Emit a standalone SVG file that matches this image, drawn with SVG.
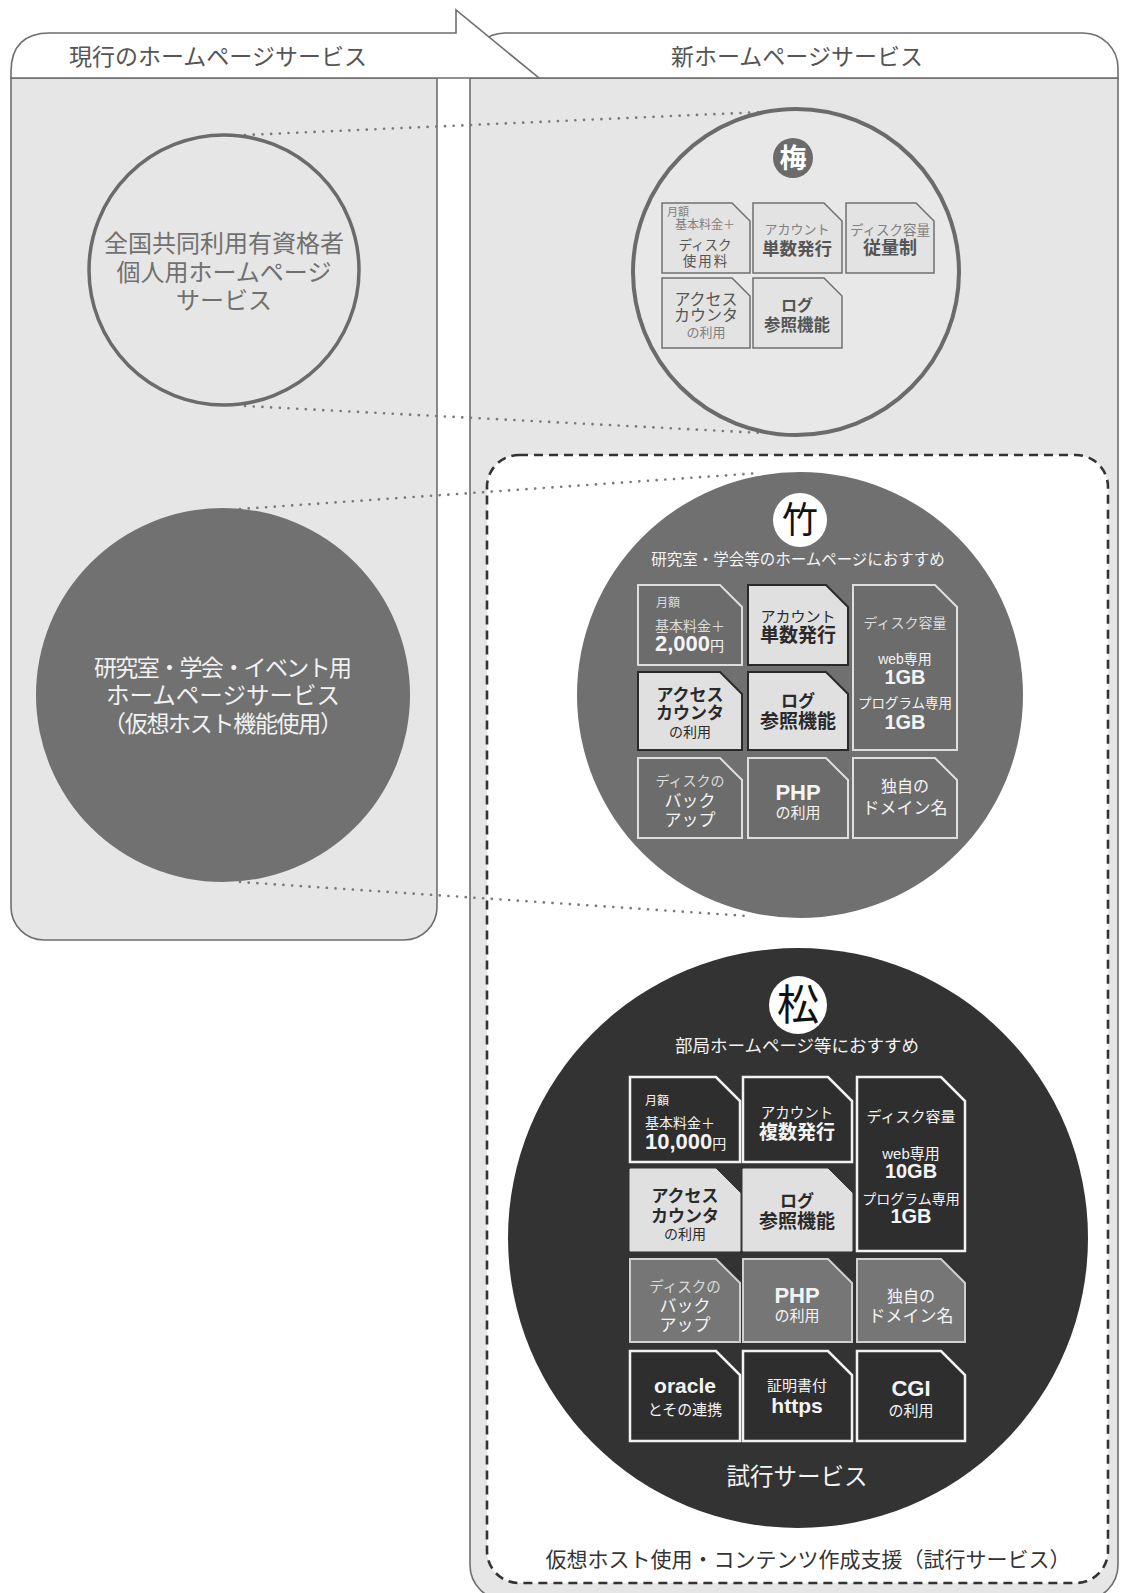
<svg xmlns="http://www.w3.org/2000/svg" width="1121" height="1593" viewBox="0 0 1121 1593">
<defs>
<style>
text{font-family:"Liberation Sans","Noto Sans CJK JP",sans-serif;}
.c{text-anchor:middle;}
.b{font-weight:bold;}
.frame{stroke:#6e6e6e;stroke-width:1.6;}
.dot{fill:none;stroke:#7a7a7a;stroke-width:2.6;stroke-linecap:round;stroke-dasharray:0.1 8.6;}
.bu{fill:#e3e3e3;stroke:#707070;stroke-width:1.5;}
.td{fill:#6c6c6c;stroke:#dedede;stroke-width:2;}
.tl{fill:#e0e0e0;stroke:#2a2a2a;stroke-width:2;}
.md{fill:#2e2e2e;stroke:#f2f2f2;stroke-width:2.5;}
.ml{fill:#e0e0e0;stroke:#e0e0e0;stroke-width:1;}
.mm{fill:#767676;stroke:#d0d0d0;stroke-width:2;}
.g8{fill:#808080;}
.g5{fill:#555;}
.k{fill:#2a2a2a;}
.w{fill:#f4f4f4;}
.wl{fill:#dcdcdc;}
</style>
</defs>
<rect width="1121" height="1593" fill="#fff"/>

<g id="panel-new">
<path class="frame" d="M470 78 V1565 A35 35 0 0 0 505 1600 H1083 A35 35 0 0 0 1118 1565 V78 Z" fill="#e6e6e6"/>
<path class="frame" d="M470 78 V68 A35 35 0 0 1 505 33 H1083 A35 35 0 0 1 1118 68 V78 Z" fill="#fff"/>
<text class="c" x="797" y="65" font-size="23" fill="#555">新ホームページサービス</text>
</g>

<g id="panel-current">
<path class="frame" d="M11 78 V907 A33 33 0 0 0 44 940 H404 A33 33 0 0 0 437 907 V78 Z" fill="#e6e6e6"/>
<path class="frame" d="M11 78 V72 Q11 33 50 33 H456 V10 L539 78 Z" fill="#fff"/>
<text class="c" x="218" y="65" font-size="23" fill="#555">現行のホームページサービス</text>
</g>

<g id="virtual-host-area">
<rect x="487" y="455" width="621" height="1128" rx="32" fill="#fff" stroke="#333" stroke-width="2.6" stroke-dasharray="9 6"/>
<text class="c" x="808" y="1567" font-size="21" fill="#333">仮想ホスト使用・コンテンツ作成支援（試行サービス）</text>
</g>

<g id="connectors">
<path class="dot" d="M245 135 L762 112"/>
<path class="dot" d="M245 406 L762 433"/>
<path class="dot" d="M240 509 L760 473"/>
<path class="dot" d="M240 882 L748 916"/>
</g>

<g id="current-personal">
<circle cx="224" cy="270" r="135" fill="none" stroke="#6b6b6b" stroke-width="3.5"/>
<text class="c" x="224" y="252" font-size="24" fill="#707070">全国共同利用有資格者</text>
<text class="c" x="224" y="281" font-size="24" fill="#707070">個人用ホームページ</text>
<text class="c" x="224" y="309" font-size="24" fill="#707070">サービス</text>
</g>

<g id="current-lab">
<circle cx="223" cy="695" r="187" fill="#717171"/>
<text class="c" x="223" y="676" font-size="23" fill="#f2f2f2" textLength="258" lengthAdjust="spacing">研究室・学会・イベント用</text>
<text class="c" x="223" y="704" font-size="23.5" fill="#f2f2f2">ホームページサービス</text>
<text class="c" x="223" y="732" font-size="23" fill="#f2f2f2" textLength="240" lengthAdjust="spacing">（仮想ホスト機能使用）</text>
</g>

<g id="ume">
<circle cx="796" cy="272" r="163" fill="#e8e8e8" stroke="#6b6b6b" stroke-width="4"/>
<circle cx="793" cy="158" r="20" fill="#6b6b6b"/>
<text class="c b" x="793" y="168" font-size="27" fill="#fff">梅</text>
<path class="bu" d="M662 203 H732 L750 221 V273 H662 Z"/>
<path class="bu" d="M753 203 H824 L842 221 V273 H753 Z"/>
<path class="bu" d="M846 203 H916 L934 221 V273 H846 Z"/>
<path class="bu" d="M662 278 H732 L750 296 V348 H662 Z"/>
<path class="bu" d="M753 278 H824 L842 296 V348 H753 Z"/>
<text class="g8" x="667" y="216" font-size="11">月額</text>
<text class="c g8" x="705" y="229" font-size="12">基本料金＋</text>
<text class="c g5" x="705" y="250" font-size="13.5">ディスク</text>
<text class="c g5" x="706" y="266" font-size="13.5" letter-spacing="2">使用料</text>
<text class="c g8" x="797" y="234" font-size="13">アカウント</text>
<text class="c b g5" x="797" y="255" font-size="17.5">単数発行</text>
<text class="c g8" x="890" y="235" font-size="13.5">ディスク容量</text>
<text class="c b g5" x="890" y="254" font-size="18">従量制</text>
<text class="c g5" x="706" y="305" font-size="16">アクセス</text>
<text class="c g5" x="706" y="321" font-size="16">カウンタ</text>
<text class="c g8" x="706" y="337" font-size="13">の利用</text>
<text class="c b g5" x="797" y="311" font-size="16">ログ</text>
<text class="c b g5" x="797" y="331" font-size="16.5">参照機能</text>
</g>

<g id="take">
<circle cx="800" cy="695" r="223" fill="#707070"/>
<circle cx="800" cy="520" r="27" fill="#fff"/>
<text class="c" x="800" y="533" font-size="36" fill="#111">竹</text>
<text class="c w" x="798" y="565" font-size="15.5">研究室・学会等のホームページにおすすめ</text>
<path class="td" d="M638 585 H720 L742 607 V665 H638 Z"/>
<path class="tl" d="M748 585 H826 L848 607 V665 H748 Z"/>
<path class="td" d="M853 585 H935 L957 607 V750 H853 Z"/>
<path class="tl" d="M638 672 H720 L742 694 V750 H638 Z"/>
<path class="tl" d="M748 672 H826 L848 694 V750 H748 Z"/>
<path class="td" d="M638 758 H720 L742 780 V838 H638 Z"/>
<path class="td" d="M748 758 H826 L848 780 V838 H748 Z"/>
<path class="td" d="M853 758 H935 L957 780 V838 H853 Z"/>
<text class="wl" x="656" y="607" font-size="12">月額</text>
<text class="wl" x="655" y="631" font-size="14">基本料金＋</text>
<text class="w" x="655" y="651"><tspan class="b" font-size="22">2,000</tspan><tspan font-size="14">円</tspan></text>
<text class="c k" x="798" y="622" font-size="15">アカウント</text>
<text class="c b k" x="798" y="642" font-size="19">単数発行</text>
<text class="c wl" x="905" y="628" font-size="14">ディスク容量</text>
<text class="c w" x="905" y="664" font-size="14">web専用</text>
<text class="c b w" x="905" y="684" font-size="20">1GB</text>
<text class="c w" x="905" y="708" font-size="13.5">プログラム専用</text>
<text class="c b w" x="905" y="729" font-size="20">1GB</text>
<text class="c b k" x="690" y="701" font-size="17">アクセス</text>
<text class="c b k" x="690" y="719" font-size="17">カウンタ</text>
<text class="c k" x="690" y="737" font-size="14">の利用</text>
<text class="c b k" x="798" y="707" font-size="17">ログ</text>
<text class="c b k" x="798" y="728" font-size="19">参照機能</text>
<text class="c wl" x="690" y="786" font-size="14">ディスクの</text>
<text class="c w" x="690" y="807" font-size="17">バック</text>
<text class="c w" x="690" y="826" font-size="17">アップ</text>
<text class="c b w" x="798" y="800" font-size="22">PHP</text>
<text class="c w" x="798" y="818" font-size="15">の利用</text>
<text class="c w" x="905" y="792" font-size="16">独自の</text>
<text class="c w" x="905" y="814" font-size="17">ドメイン名</text>
</g>

<g id="matsu">
<circle cx="798" cy="1238" r="290" fill="#333"/>
<circle cx="798" cy="1005" r="29" fill="#fff"/>
<text class="c" x="798" y="1020" font-size="42" fill="#111">松</text>
<text class="c w" x="797" y="1052" font-size="17.5">部局ホームページ等におすすめ</text>
<path class="md" d="M630 1077 H716 L740 1101 V1162 H630 Z"/>
<path class="md" d="M743 1077 H828 L852 1101 V1162 H743 Z"/>
<path class="md" d="M857 1077 H941 L965 1101 V1251 H857 Z"/>
<path class="ml" d="M630 1169 H716 L740 1193 V1251 H630 Z"/>
<path class="ml" d="M743 1169 H828 L852 1193 V1251 H743 Z"/>
<path class="mm" d="M630 1259 H716 L740 1283 V1342 H630 Z"/>
<path class="mm" d="M743 1259 H828 L852 1283 V1342 H743 Z"/>
<path class="mm" d="M857 1259 H941 L965 1283 V1342 H857 Z"/>
<path class="md" d="M630 1351 H716 L740 1375 V1441 H630 Z"/>
<path class="md" d="M743 1351 H828 L852 1375 V1441 H743 Z"/>
<path class="md" d="M857 1351 H941 L965 1375 V1441 H857 Z"/>
<text class="w" x="645" y="1105" font-size="12">月額</text>
<text class="w" x="645" y="1128" font-size="14">基本料金＋</text>
<text class="w" x="645" y="1149"><tspan class="b" font-size="22">10,000</tspan><tspan font-size="14">円</tspan></text>
<text class="c w" x="797" y="1118" font-size="14.5">アカウント</text>
<text class="c b w" x="797" y="1139" font-size="19">複数発行</text>
<text class="c w" x="911" y="1122" font-size="15">ディスク容量</text>
<text class="c w" x="911" y="1159" font-size="15">web専用</text>
<text class="c b w" x="911" y="1178" font-size="20">10GB</text>
<text class="c w" x="911" y="1204" font-size="14">プログラム専用</text>
<text class="c b w" x="911" y="1223" font-size="20">1GB</text>
<text class="c b k" x="685" y="1202" font-size="17">アクセス</text>
<text class="c b k" x="685" y="1222" font-size="17">カウンタ</text>
<text class="c k" x="685" y="1239" font-size="14">の利用</text>
<text class="c b k" x="797" y="1207" font-size="17">ログ</text>
<text class="c b k" x="797" y="1228" font-size="19">参照機能</text>
<text class="c wl" x="685" y="1292" font-size="14.5">ディスクの</text>
<text class="c w" x="685" y="1312" font-size="17">バック</text>
<text class="c w" x="685" y="1331" font-size="17">アップ</text>
<text class="c b w" x="797" y="1303" font-size="22">PHP</text>
<text class="c w" x="797" y="1321" font-size="15">の利用</text>
<text class="c w" x="911" y="1302" font-size="16">独自の</text>
<text class="c w" x="911" y="1322" font-size="17">ドメイン名</text>
<text class="c b w" x="685" y="1393" font-size="21">oracle</text>
<text class="c w" x="685" y="1415" font-size="15">とその連携</text>
<text class="c w" x="797" y="1391" font-size="15">証明書付</text>
<text class="c b w" x="797" y="1413" font-size="21">https</text>
<text class="c b w" x="911" y="1396" font-size="22">CGI</text>
<text class="c w" x="911" y="1416" font-size="15">の利用</text>
<text class="c w" x="797" y="1485" font-size="23.5">試行サービス</text>
</g>
</svg>
